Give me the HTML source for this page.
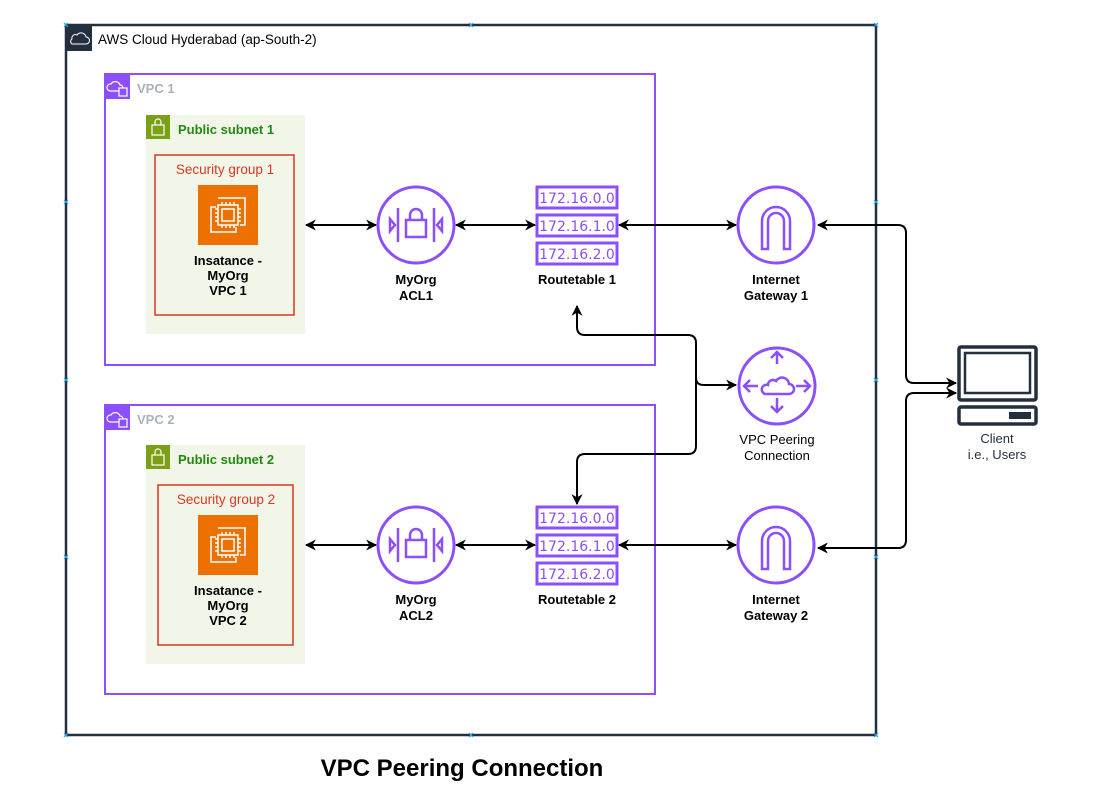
<!DOCTYPE html>
<html><head><meta charset="utf-8"><style>
html,body{margin:0;padding:0;background:#fff;}
svg{display:block;font-family:"Liberation Sans",Arial,sans-serif;}
.b{font-weight:bold;font-size:13px;fill:#000;}
</style></head><body>
<svg width="1093" height="788" viewBox="0 0 1093 788" xmlns="http://www.w3.org/2000/svg">
<defs>
<marker id="ar" viewBox="0 0 10 10" refX="9" refY="5" markerWidth="12" markerHeight="11" orient="auto-start-reverse" markerUnits="userSpaceOnUse">
<path d="M0,0 L10,5 L0,10 L3,5 Z" fill="#000"/>
</marker>
<g id="ec2">
<rect x="0" y="0" width="60" height="60" fill="#ed7100"/>
<g fill="none" stroke="#fff" stroke-width="1.5">
<path d="M20,13 H47 V40 H42"/>
<path d="M18,22 H13 V47 H38 V42"/>
<rect x="20" y="20" width="20" height="20"/>
<rect x="24" y="24" width="12" height="12"/>
<path d="M24,17v3M28,17v3M32,17v3M36,17v3M24,40v3M28,40v3M32,40v3M36,40v3M17,24h3M17,28h3M17,32h3M17,36h3M40,24h3M40,28h3M40,32h3M40,36h3"/>
</g>
</g>
<g id="acl">
<circle cx="0" cy="0" r="38" fill="#fff" stroke="#8c4fff" stroke-width="3"/>
<g stroke="#8c4fff" stroke-width="2.5" fill="none">
<path d="M-18,-17 V17 M18,-17 V17"/>
<rect x="-10" y="-5" width="20" height="17"/>
<path d="M-6,-5 V-10 A6,6 0 0 1 6,-10 V-5"/>
<path d="M-26,-6 L-21,0 L-26,6 Z M26,-6 L21,0 L26,6 Z"/>
</g>
</g>
<g id="igw">
<circle cx="0" cy="0" r="38" fill="#fff" stroke="#8c4fff" stroke-width="3"/>
<path d="M-14,24 V-4 A14,14 0 0 1 14,-4 V24 H8 V-4 A8,8 0 0 0 -8,-4 V24 Z" fill="none" stroke="#8c4fff" stroke-width="2.5"/>
</g>
<g id="rtb" fill="#fff" stroke="#8c4fff" stroke-width="3">
<rect x="537" y="0" width="80" height="21"/>
<rect x="537" y="28" width="80" height="21"/>
<rect x="537" y="56" width="80" height="21"/>
</g>
<g id="vpcic">
<path d="M4,16 h10 a3,3 0 0 0 0,-6 a5,5 0 0 0 -9,-1 a3.5,3.5 0 0 0 -1,7z" fill="none" stroke="#fff" stroke-width="1.2"/>
<rect x="13" y="13" width="8" height="8" fill="#8c4fff" stroke="#fff" stroke-width="1.2"/>
</g>
</defs>

<rect x="66" y="25" width="810" height="710" fill="none" stroke="#232f3e" stroke-width="2.5"/>
<rect x="66" y="25" width="26" height="26" fill="#232f3e"/>
<path d="M72,44 h14 a3.5,3.5 0 0 0 0,-7 a5,5 0 0 0 -9,-2 a3.5,3.5 0 0 0 -5,4 a3,3 0 0 0 0,5z" fill="none" stroke="#fff" stroke-width="1"/>
<text x="98" y="44" font-size="13.5" fill="#000">AWS Cloud Hyderabad (ap-South-2)</text>

<rect x="105" y="74" width="550" height="291" fill="none" stroke="#8c4fff" stroke-width="2"/>
<rect x="105" y="74" width="25" height="25" fill="#8c4fff"/>
<use href="#vpcic" x="106" y="75"/>
<text x="137" y="93" font-size="13" fill="#aab1b8" font-weight="bold">VPC 1</text>
<rect x="146" y="115" width="159" height="219" fill="#f2f6e8"/>
<rect x="146" y="115" width="24" height="24" fill="#7aa116"/>
<rect x="152" y="125" width="12" height="10" fill="none" stroke="#fff" stroke-width="1.2"/>
<path d="M155,125 v-3 a3,3 0 0 1 6,0 v3" fill="none" stroke="#fff" stroke-width="1.2"/>
<text x="178" y="134" font-size="13" font-weight="bold" fill="#248814">Public subnet 1</text>
<rect x="155" y="155" width="139" height="160" fill="none" stroke="#dd3522" stroke-width="1.5"/>
<text x="225" y="174" font-size="13.5" fill="#dd3522" text-anchor="middle">Security group 1</text>
<use href="#ec2" x="198" y="185"/>
<text class="b" x="228" y="265" text-anchor="middle">Insatance -</text>
<text class="b" x="228" y="280" text-anchor="middle">MyOrg</text>
<text class="b" x="228" y="295" text-anchor="middle">VPC 1</text>

<rect x="105" y="405" width="550" height="289" fill="none" stroke="#8c4fff" stroke-width="2"/>
<rect x="105" y="405" width="25" height="25" fill="#8c4fff"/>
<use href="#vpcic" x="106" y="406"/>
<text x="137" y="424" font-size="13" fill="#aab1b8" font-weight="bold">VPC 2</text>
<rect x="146" y="445" width="159" height="219" fill="#f2f6e8"/>
<rect x="146" y="445" width="24" height="24" fill="#7aa116"/>
<rect x="152" y="455" width="12" height="10" fill="none" stroke="#fff" stroke-width="1.2"/>
<path d="M155,455 v-3 a3,3 0 0 1 6,0 v3" fill="none" stroke="#fff" stroke-width="1.2"/>
<text x="178" y="464" font-size="13" font-weight="bold" fill="#248814">Public subnet 2</text>
<rect x="158" y="485" width="135" height="160" fill="none" stroke="#dd3522" stroke-width="1.5"/>
<text x="226" y="504" font-size="13.5" fill="#dd3522" text-anchor="middle">Security group 2</text>
<use href="#ec2" x="198" y="515"/>
<text class="b" x="228" y="595" text-anchor="middle">Insatance -</text>
<text class="b" x="228" y="610" text-anchor="middle">MyOrg</text>
<text class="b" x="228" y="625" text-anchor="middle">VPC 2</text>

<use href="#acl" x="416" y="225"/>
<text class="b" x="416" y="284" text-anchor="middle">MyOrg</text>
<text class="b" x="416" y="300" text-anchor="middle">ACL1</text>
<use href="#acl" x="416" y="545"/>
<text class="b" x="416" y="604" text-anchor="middle">MyOrg</text>
<text class="b" x="416" y="620" text-anchor="middle">ACL2</text>

<use href="#rtb" x="0" y="187"/>
<g font-size="14" fill="#8c4fff" text-anchor="middle" font-family="DejaVu Sans, sans-serif">
<text x="577" y="203">172.16.0.0</text><text x="577" y="231">172.16.1.0</text><text x="577" y="259">172.16.2.0</text>
</g>
<text class="b" x="577" y="284" text-anchor="middle">Routetable 1</text>
<use href="#rtb" x="0" y="507"/>
<g font-size="14" fill="#8c4fff" text-anchor="middle" font-family="DejaVu Sans, sans-serif">
<text x="577" y="523">172.16.0.0</text><text x="577" y="551">172.16.1.0</text><text x="577" y="579">172.16.2.0</text>
</g>
<text class="b" x="577" y="604" text-anchor="middle">Routetable 2</text>

<use href="#igw" x="776" y="225"/>
<text class="b" x="776" y="284" text-anchor="middle">Internet</text>
<text class="b" x="776" y="300" text-anchor="middle">Gateway 1</text>
<use href="#igw" x="776" y="545"/>
<text class="b" x="776" y="604" text-anchor="middle">Internet</text>
<text class="b" x="776" y="620" text-anchor="middle">Gateway 2</text>

<circle cx="777" cy="386" r="38" fill="#fff" stroke="#8c4fff" stroke-width="3"/>
<g stroke="#8c4fff" stroke-width="2.5" fill="none">
<path d="M777,352 v12 M771,358 l6,-6 6,6"/>
<path d="M777,398 v14 M771,406 l6,6 6,-6"/>
<path d="M744,386 h14 M750,380 l-6,6 6,6"/>
<path d="M796,386 h14 M804,380 l6,6 -6,6"/>
<path d="M765,394 h24 a5,5 0 0 0 0,-10 a7,7 0 0 0 -13,-3 a5,5 0 0 0 -8,4 a4.5,4.5 0 0 0 -3,9z"/>
</g>
<text x="777" y="444" font-size="13" text-anchor="middle" fill="#000">VPC Peering</text>
<text x="777" y="460" font-size="13" text-anchor="middle" fill="#000">Connection</text>

<g stroke="#232f3e" stroke-width="3.5" fill="none">
<rect x="959" y="347" width="77" height="53" rx="2"/>
<rect x="965" y="353" width="65" height="40" stroke-width="2.5"/>
<rect x="959" y="407" width="77" height="17" rx="2"/>
</g>
<rect x="1009" y="412" width="22" height="7" fill="#232f3e"/>
<text x="997" y="443" font-size="13" fill="#232f3e" text-anchor="middle">Client</text>
<text x="997" y="459" font-size="13" fill="#232f3e" text-anchor="middle">i.e., Users</text>

<g stroke="#000" stroke-width="2" fill="none" marker-start="url(#ar)" marker-end="url(#ar)">
<path d="M306,225 H376"/>
<path d="M456,225 H535"/>
<path d="M619,225 H736"/>
<path d="M306,545 H376"/>
<path d="M456,545 H535"/>
<path d="M619,545 H736"/>
<path d="M818,225 H898 Q906,225 906,233 V375 Q906,383 914,383 H956"/>
<path d="M818,548 H898 Q906,548 906,540 V401 Q906,393 914,393 H956"/>
</g>
<g stroke="#000" stroke-width="2" fill="none">
<path d="M577,306 V327 Q577,335 585,335 H688 Q696,335 696,343 V378 Q696,385 704,385 H736" marker-start="url(#ar)" marker-end="url(#ar)"/>
<path d="M696,378 V446 Q696,454 688,454 H585 Q577,454 577,462 V504" marker-end="url(#ar)"/>
</g>

<g stroke="#29a3e6" stroke-width="1.2">
<path d="M64,23l4,4m0,-4l-4,4M469,23l4,4m0,-4l-4,4M874,23l4,4m0,-4l-4,4M64,200l4,4m0,-4l-4,4M64,378l4,4m0,-4l-4,4M64,555l4,4m0,-4l-4,4M64,733l4,4m0,-4l-4,4M469,733l4,4m0,-4l-4,4M874,733l4,4m0,-4l-4,4M874,200l4,4m0,-4l-4,4M874,378l4,4m0,-4l-4,4M874,555l4,4m0,-4l-4,4"/>
</g>

<text x="462" y="776" font-size="24" font-weight="bold" text-anchor="middle" fill="#000">VPC Peering Connection</text>
</svg>
</body></html>
